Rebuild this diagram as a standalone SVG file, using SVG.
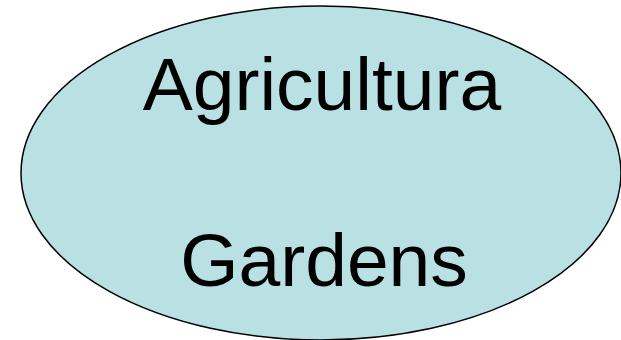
<svg xmlns="http://www.w3.org/2000/svg" width="621" height="340" viewBox="0 0 621 340">
<style>
.node-shape{fill:#b9e0e3;stroke:#000;stroke-width:1.5}
.label{font-family:"Liberation Sans",Arial,sans-serif;font-size:75px;fill:#000;text-anchor:middle}
</style>
<rect width="621" height="340" fill="#fff"/>
<g id="connectors"></g>
<g id="node-agricultura-gardens">
<ellipse class="node-shape" cx="321" cy="173" rx="300" ry="167"/>
<text class="label" x="322" y="110">Agricultura</text>
<text class="label" x="324" y="286">Gardens</text>
</g>
</svg>
